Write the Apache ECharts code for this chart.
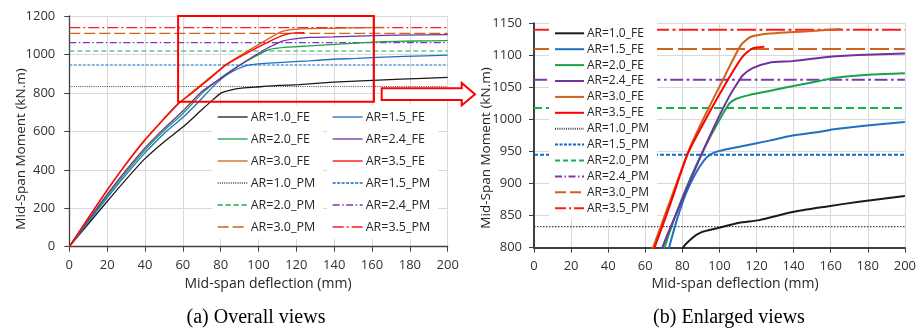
<!DOCTYPE html>
<html>
<head>
<meta charset="utf-8">
<script src="https://cdn.jsdelivr.net/npm/echarts@6/dist/echarts.min.js"></script>
<style>
html,body{margin:0;padding:0;background:#fff;}
#chart{width:919px;height:333px;}
</style>
</head>
<body>
<div id="chart"></div>
<script>
// ---------------- DATA ----------------
const arLabels = ['1.0', '1.5', '2.0', '2.4', '3.0', '3.5'];

// FE curves: mid-span deflection (mm) and mid-span moment (kN.m)
const defl_AR10 = [0, 10, 20, 30, 40, 50, 60, 70, 76, 80.3, 85.7, 90.1, 98.2, 110.7, 121.5, 139.4, 157.3, 175.3, 200];
const mom_AR10  = [0, 118, 235, 350, 458, 545, 622, 712, 765, 800, 816, 824, 830, 839, 843, 855.6, 864, 871.8, 880.6];

const defl_AR15 = [0, 10, 20, 30, 40, 50, 60, 67, 72.8, 77, 82, 87, 91.9, 95.5, 100, 110.7, 126.9, 139.4, 152, 162.7, 177, 200];
const mom_AR15  = [0, 128, 254, 375, 488, 588, 672, 740, 800, 843, 885, 915, 937, 946, 951, 957.6, 967, 975, 980, 985, 990, 996];

const defl_AR20 = [0, 10, 20, 30, 40, 50, 60, 70.4, 80, 91, 100, 105.4, 108.9, 116, 126.9, 135.8, 153.8, 162.7, 182.4, 200];
const mom_AR20  = [0, 133, 264, 388, 503, 603, 692, 800, 878, 950, 999, 1025, 1032, 1038, 1044.4, 1050, 1060, 1065, 1070, 1072];

const defl_AR24 = [0, 10, 20, 30, 40, 50, 60, 69.2, 78, 88, 97.2, 105.3, 110, 112.6, 117.9, 126.9, 139.4, 157, 175, 200];
const mom_AR24  = [0, 138, 272, 398, 514, 614, 706, 800, 862, 930, 989, 1036, 1058, 1069, 1080, 1088.6, 1091, 1097, 1100.5, 1103];

const defl_AR30 = [0, 10, 20, 30, 40, 50, 57, 64.2, 72, 83.9, 92.8, 101.8, 111.6, 117, 126.9, 137.6, 150, 165.4];
const mom_AR30  = [0, 148, 292, 428, 552, 662, 736, 800, 862, 955, 1009.6, 1061.6, 1116, 1129, 1134, 1136, 1138, 1141];

const defl_AR35 = [0, 10, 20, 30, 40, 50, 57, 65, 74, 83, 93.8, 104.5, 112.5, 117.9, 124.2];
const mom_AR35  = [0, 150, 295, 432, 558, 667, 740, 800, 872, 947, 1007, 1061.6, 1098, 1111, 1113.6];

// Plastic-moment (PM) levels, kN.m, in the order of arLabels
const pmMoment = [833, 945, 1018, 1062, 1110, 1140];
const pmDeflRange = [0, 200];

// Enlarged window shown on overall view
const zoomWinDefl = [57.5, 161];
const zoomWinMom = [754, 1200];

// Axis tick settings
const deflTicks = { min: 0, max: 200, step: 20 };
const momTicksAll = { min: 0, max: 1200, step: 200 };
const momTicksZoom = { min: 800, max: 1150, step: 50 };

// ---------------- STYLE ----------------
const feDefl = [defl_AR10, defl_AR15, defl_AR20, defl_AR24, defl_AR30, defl_AR35];
const feMom = [mom_AR10, mom_AR15, mom_AR20, mom_AR24, mom_AR30, mom_AR35];
const feColors = ['#1a1a1a', '#1f6fc4', '#17a34a', '#7030a0', '#d0621c', '#ff0000'];
const pmColors = ['#404040', '#0a6cc4', '#12b04e', '#7c3ab0', '#d0621c', '#ff1a1a'];
const pmDashSmall = [[1, 1.2], [3, 1.5], [5, 3], [7, 2.5, 1.5, 2.5], [11, 4], [11, 3, 2, 3]];
const pmDashBig = [[1.5, 1.5], [4, 2], [8, 4], [13, 3.5, 2.7, 3.5], [19, 5], [19, 3.5, 3, 3.5]];
const FONT = '"Open Sans", sans-serif';
const AX = '#404040';

function zip(a, b) { return a.map((v, i) => [v, b[i]]); }

const series = [];
[0, 1].forEach(g => {
  const big = g === 1;
  arLabels.forEach((lab, i) => {
    series.push({
      name: 'AR=' + lab + '_FE', type: 'line', xAxisIndex: g, yAxisIndex: g,
      data: zip(feDefl[i], feMom[i]), symbol: 'none', showSymbol: false,
      smooth: 0.2, clip: true, silent: true, z: 3,
      lineStyle: { color: feColors[i], width: big ? 2 : 1.3 },
      itemStyle: { color: feColors[i] }
    });
  });
  arLabels.forEach((lab, i) => {
    const s = {
      name: 'AR=' + lab + '_PM', type: 'line', xAxisIndex: g, yAxisIndex: g,
      data: pmDeflRange.map(d => [d, pmMoment[i]]), symbol: 'none', showSymbol: false,
      clip: true, silent: true, z: 2,
      lineStyle: { color: pmColors[i], width: big ? (i === 0 ? 1.3 : 2) : (i === 0 ? 1 : 1.2), type: big ? pmDashBig[i] : pmDashSmall[i] },
      itemStyle: { color: pmColors[i] }
    };
    if (!big && i === 5) {
      s.markArea = {
        silent: true, z: 6,
        itemStyle: { color: 'rgba(0,0,0,0)', borderColor: '#ff0000', borderWidth: 2 },
        data: [[{ coord: [zoomWinDefl[0], zoomWinMom[0]] }, { coord: [zoomWinDefl[1], zoomWinMom[1]] }]]
      };
    }
    series.push(s);
  });
});

function xAx(g, w) {
  return {
    type: 'value', gridIndex: g, min: deflTicks.min, max: deflTicks.max, interval: deflTicks.step,
    axisLine: { show: true, onZero: false, lineStyle: { color: AX, width: w } },
    axisTick: { show: true, inside: false, length: 5, lineStyle: { color: AX, width: 1 } },
    axisLabel: { fontSize: 13, color: '#333', margin: 12, fontFamily: FONT, formatter: v => String(v) },
    splitLine: { show: true, lineStyle: { color: '#d9d9d9', width: 1 } }
  };
}
function yAx(g, t, w, m) {
  return {
    type: 'value', gridIndex: g, min: t.min, max: t.max, interval: t.step,
    axisLine: { show: true, onZero: false, lineStyle: { color: AX, width: w } },
    axisTick: { show: true, inside: false, length: 5, lineStyle: { color: AX, width: 1 } },
    axisLabel: { fontSize: 13, color: '#333', margin: m, fontFamily: FONT, formatter: v => String(v) },
    splitLine: { show: true, lineStyle: { color: '#d9d9d9', width: 1 } }
  };
}

const feNames = arLabels.map(l => 'AR=' + l + '_FE');
const pmNames = arLabels.map(l => 'AR=' + l + '_PM');
const leftCol1 = [feNames[0], feNames[2], feNames[4], pmNames[0], pmNames[2], pmNames[4]];
const leftCol2 = [feNames[1], feNames[3], feNames[5], pmNames[1], pmNames[3], pmNames[5]];
const rightCol = feNames.concat(pmNames);

function legend(data, left, top, fs, ih, gap, iw, lw) {
  return {
    data: data, orient: 'vertical', left: left, top: top,
    padding: [5, 8, 5, 5], backgroundColor: '#ffffff', selectedMode: false,
    itemWidth: iw, itemHeight: ih, itemGap: gap,
    lineStyle: { width: lw },
    itemStyle: { opacity: 0, borderWidth: 0 },
    textStyle: { fontSize: fs, color: '#262626', fontFamily: FONT, lineHeight: ih, padding: [0, 0, 0, -2] }
  };
}

const option = {
  animation: false,
  backgroundColor: '#ffffff',
  grid: [
    { left: 69.3, top: 16, width: 378.4, height: 230.7 },
    { left: 534, top: 23.3, width: 372, height: 224.4 }
  ],
  xAxis: [xAx(0, 1.3), xAx(1, 2)],
  yAxis: [yAx(0, momTicksAll, 1.3, 14), yAx(1, momTicksZoom, 2, 12)],
  legend: [
    legend(leftCol1, 212, 105, 12.5, 14, 8, 30, 1.3),
    legend(leftCol2, 327, 105, 12.5, 14, 8, 30, 1.3),
    legend(rightCol, 549, 22.3, 12, 12, 3.9, 29, 2)
  ],
  series: series,
  graphic: [
    { type: 'text', x: 21, y: 149, rotation: Math.PI / 2, z: 50,
      style: { text: 'Mid-Span Moment (kN.m)', font: '13.5px ' + FONT, fill: '#262626', align: 'center', verticalAlign: 'middle' } },
    { type: 'text', x: 486, y: 148, rotation: Math.PI / 2, z: 50,
      style: { text: 'Mid-Span Moment (kN.m)', font: '13.5px ' + FONT, fill: '#262626', align: 'center', verticalAlign: 'middle' } },
    { type: 'text', x: 268, y: 284, z: 50,
      style: { text: 'Mid-span deflection (mm)', font: '14px ' + FONT, fill: '#262626', align: 'center', verticalAlign: 'middle' } },
    { type: 'text', x: 735, y: 284, z: 50,
      style: { text: 'Mid-span deflection (mm)', font: '14px ' + FONT, fill: '#262626', align: 'center', verticalAlign: 'middle' } },
    { type: 'text', x: 256, y: 318, z: 50,
      style: { text: '(a) Overall views', font: '20px "Liberation Serif", serif', fill: '#000', align: 'center', verticalAlign: 'middle' } },
    { type: 'text', x: 729, y: 318, z: 50,
      style: { text: '(b) Enlarged views', font: '20px "Liberation Serif", serif', fill: '#000', align: 'center', verticalAlign: 'middle' } },
    { type: 'polygon', z: 100,
      shape: { points: [[381.7, 88.3], [461.7, 88.3], [461.7, 83], [475, 94.2], [461.7, 105.4], [461.7, 100], [381.7, 100]] },
      style: { fill: '#ffffff', stroke: '#ff0000', lineWidth: 2 } }
  ]
};

const chart = echarts.init(document.getElementById('chart'), null, { renderer: 'canvas' });
chart.setOption(option);
</script>
</body>
</html>
